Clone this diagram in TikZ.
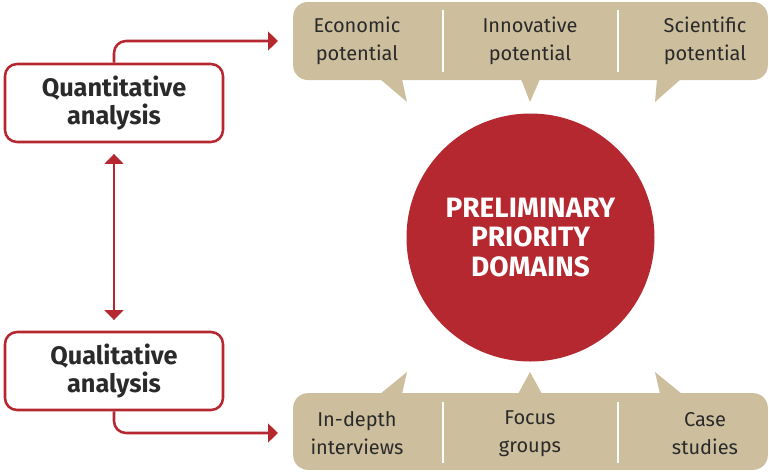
\documentclass[tikz,border=0pt]{standalone}
\usepackage{fontspec}
\setmainfont{Fira Sans}
\usetikzlibrary{arrows.meta}
\definecolor{ecred}{HTML}{B5282F}
\definecolor{ectan}{HTML}{CDBF9E}
\definecolor{ectext}{HTML}{2A2A2A}
\begin{document}
\begin{tikzpicture}
      [x=0.75pt,y=-0.75pt,
      %%%%%%%%%%%%%%%%%%%%%%%%%%%%%%
      anabox/.style={rectangle,rounded corners=9pt,draw=ecred,line width=1.9pt,fill=white,
        minimum width=163.5pt,minimum height=58.5pt,align=center,text=ectext,
        font=\fontsize{19}{21}\selectfont\bfseries},
      tanbox/.style={rectangle,rounded corners=11pt,fill=ectan,minimum width=356pt},
      tantext/.style={align=center,text=ectext,font=\fontsize{15}{21}\selectfont},
      link/.style={draw=ecred,line width=1.9pt,rounded corners=9pt},
      tip/.style={-{Triangle[length=7.5pt,width=14pt]}},
      divider/.style={draw=white,line width=1.5pt},
      ]%%%%%%%%%%%%%%%%%%%%%%%%%%%%%%
      \useasboundingbox (0,0) rectangle (769,472);

      % callout boxes
      \node[tanbox,minimum height=58.5pt] (potential) at (530.5,41){};
      \node[tanbox,minimum height=57.5pt] (methods) at (530.5,431.5){};
      \fill[ectan] (380,79) -- (407,102) -- (402,79) -- cycle;
      \fill[ectan] (521,79) -- (530,102) -- (540,79) -- cycle;
      \fill[ectan] (657,79) -- (655,102) -- (681,79) -- cycle;
      \fill[ectan] (380,394) -- (407,372) -- (402,394) -- cycle;
      \fill[ectan] (518,394) -- (530,372) -- (542,394) -- cycle;
      \fill[ectan] (660,394) -- (655,372) -- (682,394) -- cycle;
      \draw[divider] (443,10) -- (443,72);
      \draw[divider] (618,10) -- (618,72);
      \draw[divider] (443,402) -- (443,463);
      \draw[divider] (618,402) -- (618,463);

      \node[tantext] (econ) at (357,41){Economic\\potential};
      \node[tantext] (innov) at (530,41){Innovative\\potential};
      \node[tantext] (scien) at (705,41){Scientific\\potential};
      \node[tantext] (interv) at (357,433.5){In-depth\\interviews};
      \node[tantext] (focus) at (530,433.5){Focus\\groups};
      \node[tantext] (cases) at (705,433.5){Case\\studies};

      % centre
      \node[circle,fill=ecred,minimum size=186pt,align=center,text=white,
        font=\fontsize{21}{22}\selectfont\bfseries] (domains) at (530.5,237.5){PRELIMINARY\\PRIORITY\\DOMAINS};

      % analyses
      \node[anabox] (quant) at (114,103){Quantitative\\analysis};
      \node[anabox] (qual) at (114,371){Qualitative\\analysis};

      \coordinate (quantend) at (278,41);
      \coordinate (qualend) at (278,433);
      \draw[link,tip] (quant.north) |- (quantend);
      \draw[link,tip] (qual.south) |- (qualend);
      \draw[link,{Triangle[length=7.5pt,width=14pt]}-{Triangle[length=7.5pt,width=14pt]},
        shorten <=8pt,shorten >=8pt] (quant.south) -- (qual.north);
    \end{tikzpicture}
\end{document}
